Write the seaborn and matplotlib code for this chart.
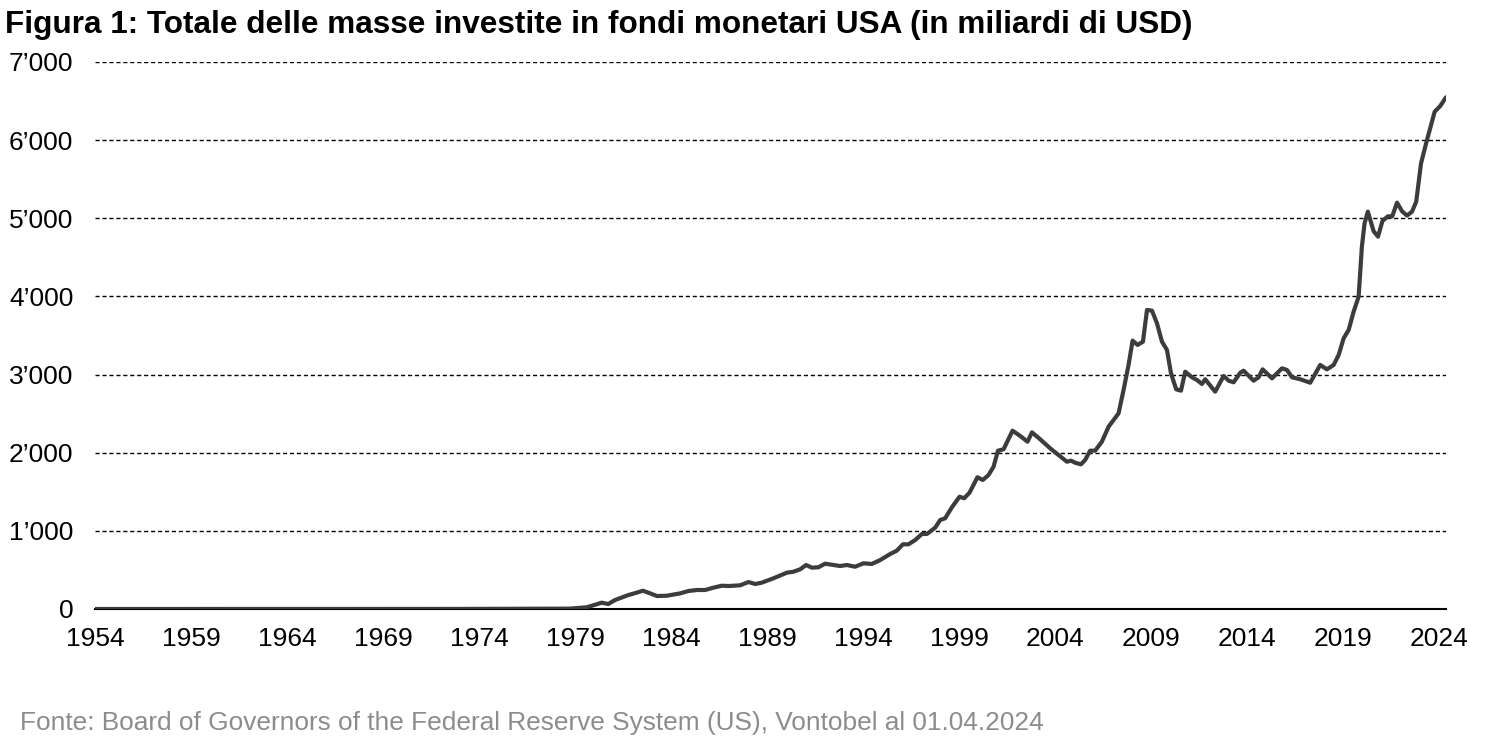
import numpy as np
import pandas as pd
import matplotlib
matplotlib.use("Agg")
import matplotlib.pyplot as plt
import seaborn as sns
from matplotlib.ticker import FuncFormatter

# --- data (billions of USD) ---
early_years = [1954, 1956, 1958, 1960, 1962, 1964, 1966, 1968, 1970, 1972,
               1973, 1974, 1975, 1976, 1977, 1978, 1978.74]
early_values = [0, 0, 0, 0, 0, 0, 0, 0, 0, 1,
                1, 2, 3, 3, 3, 4, 5]

years = [1979.61, 1980.39, 1980.73, 1981.08, 1981.78, 1982.21, 1982.53, 1982.91,
         1983.26, 1983.78, 1984.47, 1984.90, 1985.34, 1985.77, 1986.20, 1986.64,
         1986.98, 1987.59, 1988.03, 1988.38, 1988.72, 1989.33, 1990.03, 1990.37,
         1990.72, 1991.03, 1991.33, 1991.67, 1992.02, 1992.80, 1993.15, 1993.58,
         1994.02, 1994.45, 1994.89, 1995.41, 1995.75, 1996.07, 1996.36, 1996.71,
         1997.06, 1997.32, 1997.75, 1998.01, 1998.27, 1998.62, 1999.02, 1999.26,
         1999.54, 1999.95, 2000.23, 2000.53, 2000.79, 2001.02, 2001.31, 2001.78,
         2002.18, 2002.56, 2002.79, 2003.22, 2003.74, 2004.17, 2004.61, 2004.82,
         2005.04, 2005.34, 2005.56, 2005.82, 2006.08, 2006.43, 2006.78, 2007.04,
         2007.30, 2007.56, 2007.82, 2008.03, 2008.29, 2008.57, 2008.78, 2009.04,
         2009.30, 2009.56, 2009.82, 2010.03, 2010.30, 2010.55, 2010.77, 2011.12,
         2011.38, 2011.64, 2011.81, 2012.33, 2012.77, 2013.03, 2013.29, 2013.64,
         2013.81, 2014.33, 2014.59, 2014.80, 2015.29, 2015.81, 2016.07, 2016.33,
         2016.76, 2017.28, 2017.80, 2018.15, 2018.50, 2018.76, 2019.02, 2019.28,
         2019.54, 2019.80, 2019.97, 2020.11, 2020.28, 2020.58, 2020.81, 2021.04,
         2021.32, 2021.55, 2021.80, 2022.06, 2022.32, 2022.58, 2022.80, 2023.05,
         2023.36, 2023.76, 2024.05, 2024.35]
values = [22, 81, 64, 115, 179, 209, 234, 200,
          166, 170, 200, 230, 243, 243, 273, 298,
          294, 303, 345, 320, 337, 393, 465, 477,
          508, 563, 529, 534, 580, 550, 563, 541,
          585, 576, 627, 704, 746, 828, 828, 883,
          960, 960, 1041, 1139, 1161, 1301, 1437, 1417,
          1489, 1686, 1651, 1715, 1821, 2026, 2044, 2282,
          2214, 2141, 2261, 2171, 2056, 1971, 1885, 1898,
          1872, 1851, 1907, 2026, 2026, 2141, 2333, 2419,
          2504, 2803, 3123, 3434, 3379, 3421, 3827, 3818,
          3656, 3421, 3315, 3016, 2811, 2794, 3037, 2965,
          2931, 2880, 2940, 2781, 2982, 2922, 2901, 3024,
          3050, 2922, 2965, 3067, 2952, 3080, 3059, 2965,
          2940, 2896, 3123, 3067, 3123, 3251, 3464, 3571,
          3805, 3997, 4637, 4936, 5085, 4835, 4765, 4965,
          5025, 5025, 5200, 5090, 5035, 5085, 5213, 5704,
          6002, 6364, 6437, 6549]

tick_years = list(range(1954, 2025, 5))
y_ticks = [0, 1000, 2000, 3000, 4000, 5000, 6000, 7000]

title = "Figura 1: Totale delle masse investite in fondi monetari USA (in miliardi di USD)"
source = "Fonte: Board of Governors of the Federal Reserve System (US), Vontobel al 01.04.2024"

df = pd.DataFrame({"anno": early_years + years, "masse": early_values + values})

sns.set_style("white")
plt.rcParams["font.family"] = ["Liberation Sans", "DejaVu Sans"]

fig = plt.figure(figsize=(15, 7.5), dpi=100)
ax = fig.add_axes([95 / 1500, 141 / 750, (1446 - 95) / 1500, (609 - 62) / 750])

# dashed horizontal grid
for v in y_ticks[1:]:
    ax.axhline(v, color="black", lw=1.0, linestyle=(0, (3, 2)), zorder=1)

sns.lineplot(data=df, x="anno", y="masse", color="#3c3c3c", linewidth=3.0,
             ax=ax, zorder=3, legend=False)

ax.set_xlim(1954, 2024.35)
ax.set_ylim(0, 7000)
ax.set_xticks(tick_years)
ax.set_yticks(y_ticks)
ax.yaxis.set_major_formatter(FuncFormatter(
    lambda v, p: f"{int(v):,}".replace(",", "\u2019")))
ax.tick_params(axis="y", length=0, pad=15.5, labelsize=19, labelcolor="black")
ax.tick_params(axis="x", length=0, pad=13, labelsize=19, labelcolor="black")
ax.set_xlabel("")
ax.set_ylabel("")

for s in ["top", "right", "left"]:
    ax.spines[s].set_visible(False)
ax.spines["bottom"].set_color("black")
ax.spines["bottom"].set_linewidth(1.5)
ax.spines["bottom"].set_zorder(2)

fig.text(5 / 1500, 1 - 25 / 750, title, fontsize=22.7, fontweight="bold",
         color="black", ha="left", va="center")
fig.text(20 / 1500, 1 - 723 / 750, source, fontsize=18.9, color="#8c8c8c",
         ha="left", va="center")

fig.savefig("out.png", dpi=100)
